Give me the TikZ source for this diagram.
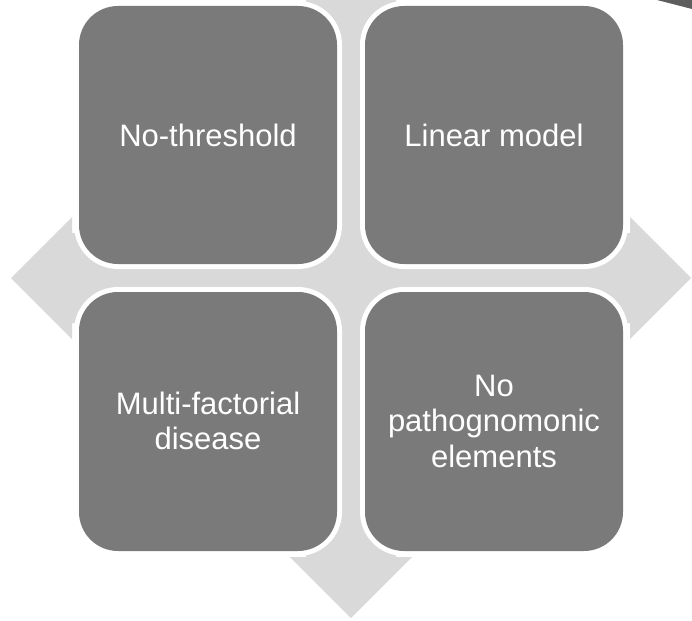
\documentclass[tikz,border=0pt]{standalone}
\usepackage{fontspec}
\setmainfont{Liberation Sans}
\definecolor{boxgray}{HTML}{7A7A7A}
\definecolor{crossgray}{HTML}{D9D9D9}
\definecolor{darkwedge}{HTML}{5E5E5E}
\begin{document}
\begin{tikzpicture}[x=1pt,y=-1pt,
  outerbox/.style={fill=white,rounded corners=44pt},
  innerbox/.style={fill=boxgray,rounded corners=39pt},
  boxtext/.style={text=white,font=\fontsize{31}{35.5}\selectfont,align=center,inner sep=0pt}]
\useasboundingbox (0,0) rectangle (692,620);
% background cross with four arrowheads
\fill[crossgray] (306,-1) -- (290,-1) -- (351,-62) -- (412,-1) -- (396,-1)
  -- (396,233) -- (630,233) -- (630,217) -- (691,278) -- (630,339) -- (630,323)
  -- (396,323) -- (396,557) -- (412,557) -- (351,618) -- (290,557) -- (306,557)
  -- (306,323) -- (72,323) -- (72,339) -- (11,278) -- (72,217) -- (72,233)
  -- (306,233) -- cycle;
% white outlines
\fill[outerbox] (74,1) rectangle (342,269);
\fill[outerbox] (360,1) rectangle (628,269);
\fill[outerbox] (74,287) rectangle (342,556);
\fill[outerbox] (360,287) rectangle (628,556);
% boxes
\fill[innerbox] (79,6) rectangle (337,264);
\fill[innerbox] (365,6) rectangle (623,264);
\fill[innerbox] (79,292) rectangle (337,551);
\fill[innerbox] (365,292) rectangle (623,551);
% texts
\node[boxtext] (tl) at (208,135) {No-threshold};
\node[boxtext] (tr) at (494,135) {Linear model};
\node[boxtext] (bl) at (208,421) {Multi-factorial\\disease};
\node[boxtext] (br) at (494,421) {No\\pathognomonic\\elements};
% cropped dark shape in top-right corner
\fill[darkwedge] (657,0) -- (692,0) -- (692,9) -- cycle;
\end{tikzpicture}
\end{document}
